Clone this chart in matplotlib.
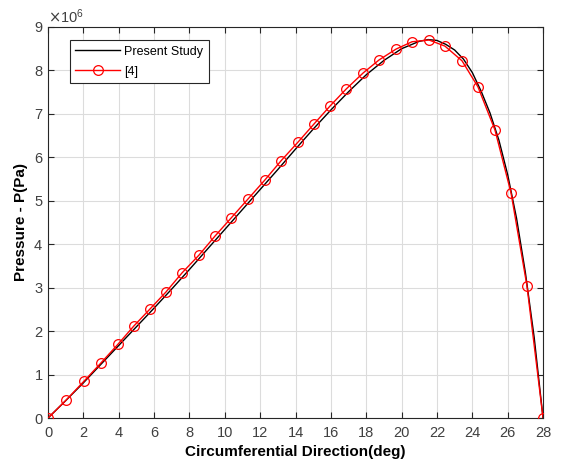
import numpy as np
import matplotlib
matplotlib.use("Agg")
import matplotlib.pyplot as plt
from matplotlib.ticker import ScalarFormatter

plt.rcParams["font.family"] = ["Liberation Sans", "DejaVu Sans"]

# ── data ────────────────────────────────────────────────────────────────────
# present study (black curve)
study_deg = [0, 1, 2, 3, 4, 5, 6, 7, 8, 9, 10, 11, 12, 13, 14, 15, 16, 17, 18,
             19, 20, 21, 21.5, 22, 22.5, 23, 23.5, 24, 24.5, 25, 25.5, 26, 26.5,
             27, 27.5, 28]
study_p = [0.00, 0.40, 0.81, 1.24, 1.67, 2.10, 2.53, 2.97, 3.42, 3.88, 4.34,
           4.80, 5.26, 5.72, 6.19, 6.65, 7.09, 7.51, 7.90, 8.23, 8.50, 8.67,
           8.71, 8.69, 8.60, 8.47, 8.26, 7.95, 7.52, 7.02, 6.40, 5.60, 4.60,
           3.35, 1.85, 0.00]

# reference [4] (red circles)
ref_deg = [0.00, 1.02, 2.04, 3.00, 3.96, 4.86, 5.77, 6.67, 7.58, 8.54, 9.45,
           10.35, 11.31, 12.27, 13.18, 14.14, 15.05, 15.95, 16.86, 17.82,
           18.72, 19.68, 20.59, 21.55, 22.45, 23.42, 24.32, 25.28, 26.19,
           27.09, 28.00]
ref_p = [0.00, 0.41, 0.85, 1.27, 1.70, 2.12, 2.51, 2.90, 3.34, 3.75, 4.19,
         4.60, 5.04, 5.48, 5.92, 6.35, 6.77, 7.18, 7.57, 7.94, 8.24, 8.49,
         8.66, 8.70, 8.56, 8.22, 7.62, 6.63, 5.18, 3.04, 0.00]

study_p = np.array(study_p) * 1e6
ref_p = np.array(ref_p) * 1e6

# ── figure ───────────────────────────────────────────────────────────────────
fig = plt.figure(figsize=(5.61, 4.70), dpi=100)
ax = fig.add_axes([0.0856, 0.1106, 0.8824, 0.832])

ax.plot(study_deg, study_p, color="black", lw=1.0, label="Present Study", zorder=3)
ax.plot(ref_deg, ref_p, color="red", lw=1.0, marker="o", ms=7, mfc="none",
        mec="red", mew=0.9, label="[4]", zorder=4)

ax.set_xlim(0, 28)
ax.set_ylim(0, 9e6)
ax.set_xticks(np.arange(0, 29, 2))
ax.set_yticks(np.arange(0, 9.1e6, 1e6))

fmt = ScalarFormatter(useMathText=True)
fmt.set_powerlimits((0, 0))
ax.yaxis.set_major_formatter(fmt)
ax.yaxis.get_offset_text().set_fontsize(10.5)
ax.yaxis.get_offset_text().set_color("#555555")

ax.grid(True, color="#dcdcdc", lw=0.8)
ax.set_axisbelow(True)
ax.tick_params(direction="in", top=True, right=True, length=4,
               labelsize=10.5, colors="#262626", labelcolor="#404040", width=0.8)
ax.tick_params(axis="x", pad=6)
for s in ax.spines.values():
    s.set_color("#262626")
    s.set_linewidth(0.8)

ax.set_xlabel("Circumferential Direction(deg)", fontsize=11, fontweight="bold", labelpad=3)
ax.set_ylabel("Pressure - P(Pa)", fontsize=11, fontweight="bold", labelpad=4)

leg = ax.legend(loc="upper left", bbox_to_anchor=(0.044, 0.967), fontsize=9,
                fancybox=False, edgecolor="#262626", framealpha=1,
                handlelength=3.6, borderpad=0.45, labelspacing=0.65,
                handletextpad=0.3, borderaxespad=0)
leg.get_frame().set_linewidth(0.8)

fig.savefig("out.png", dpi=100)
